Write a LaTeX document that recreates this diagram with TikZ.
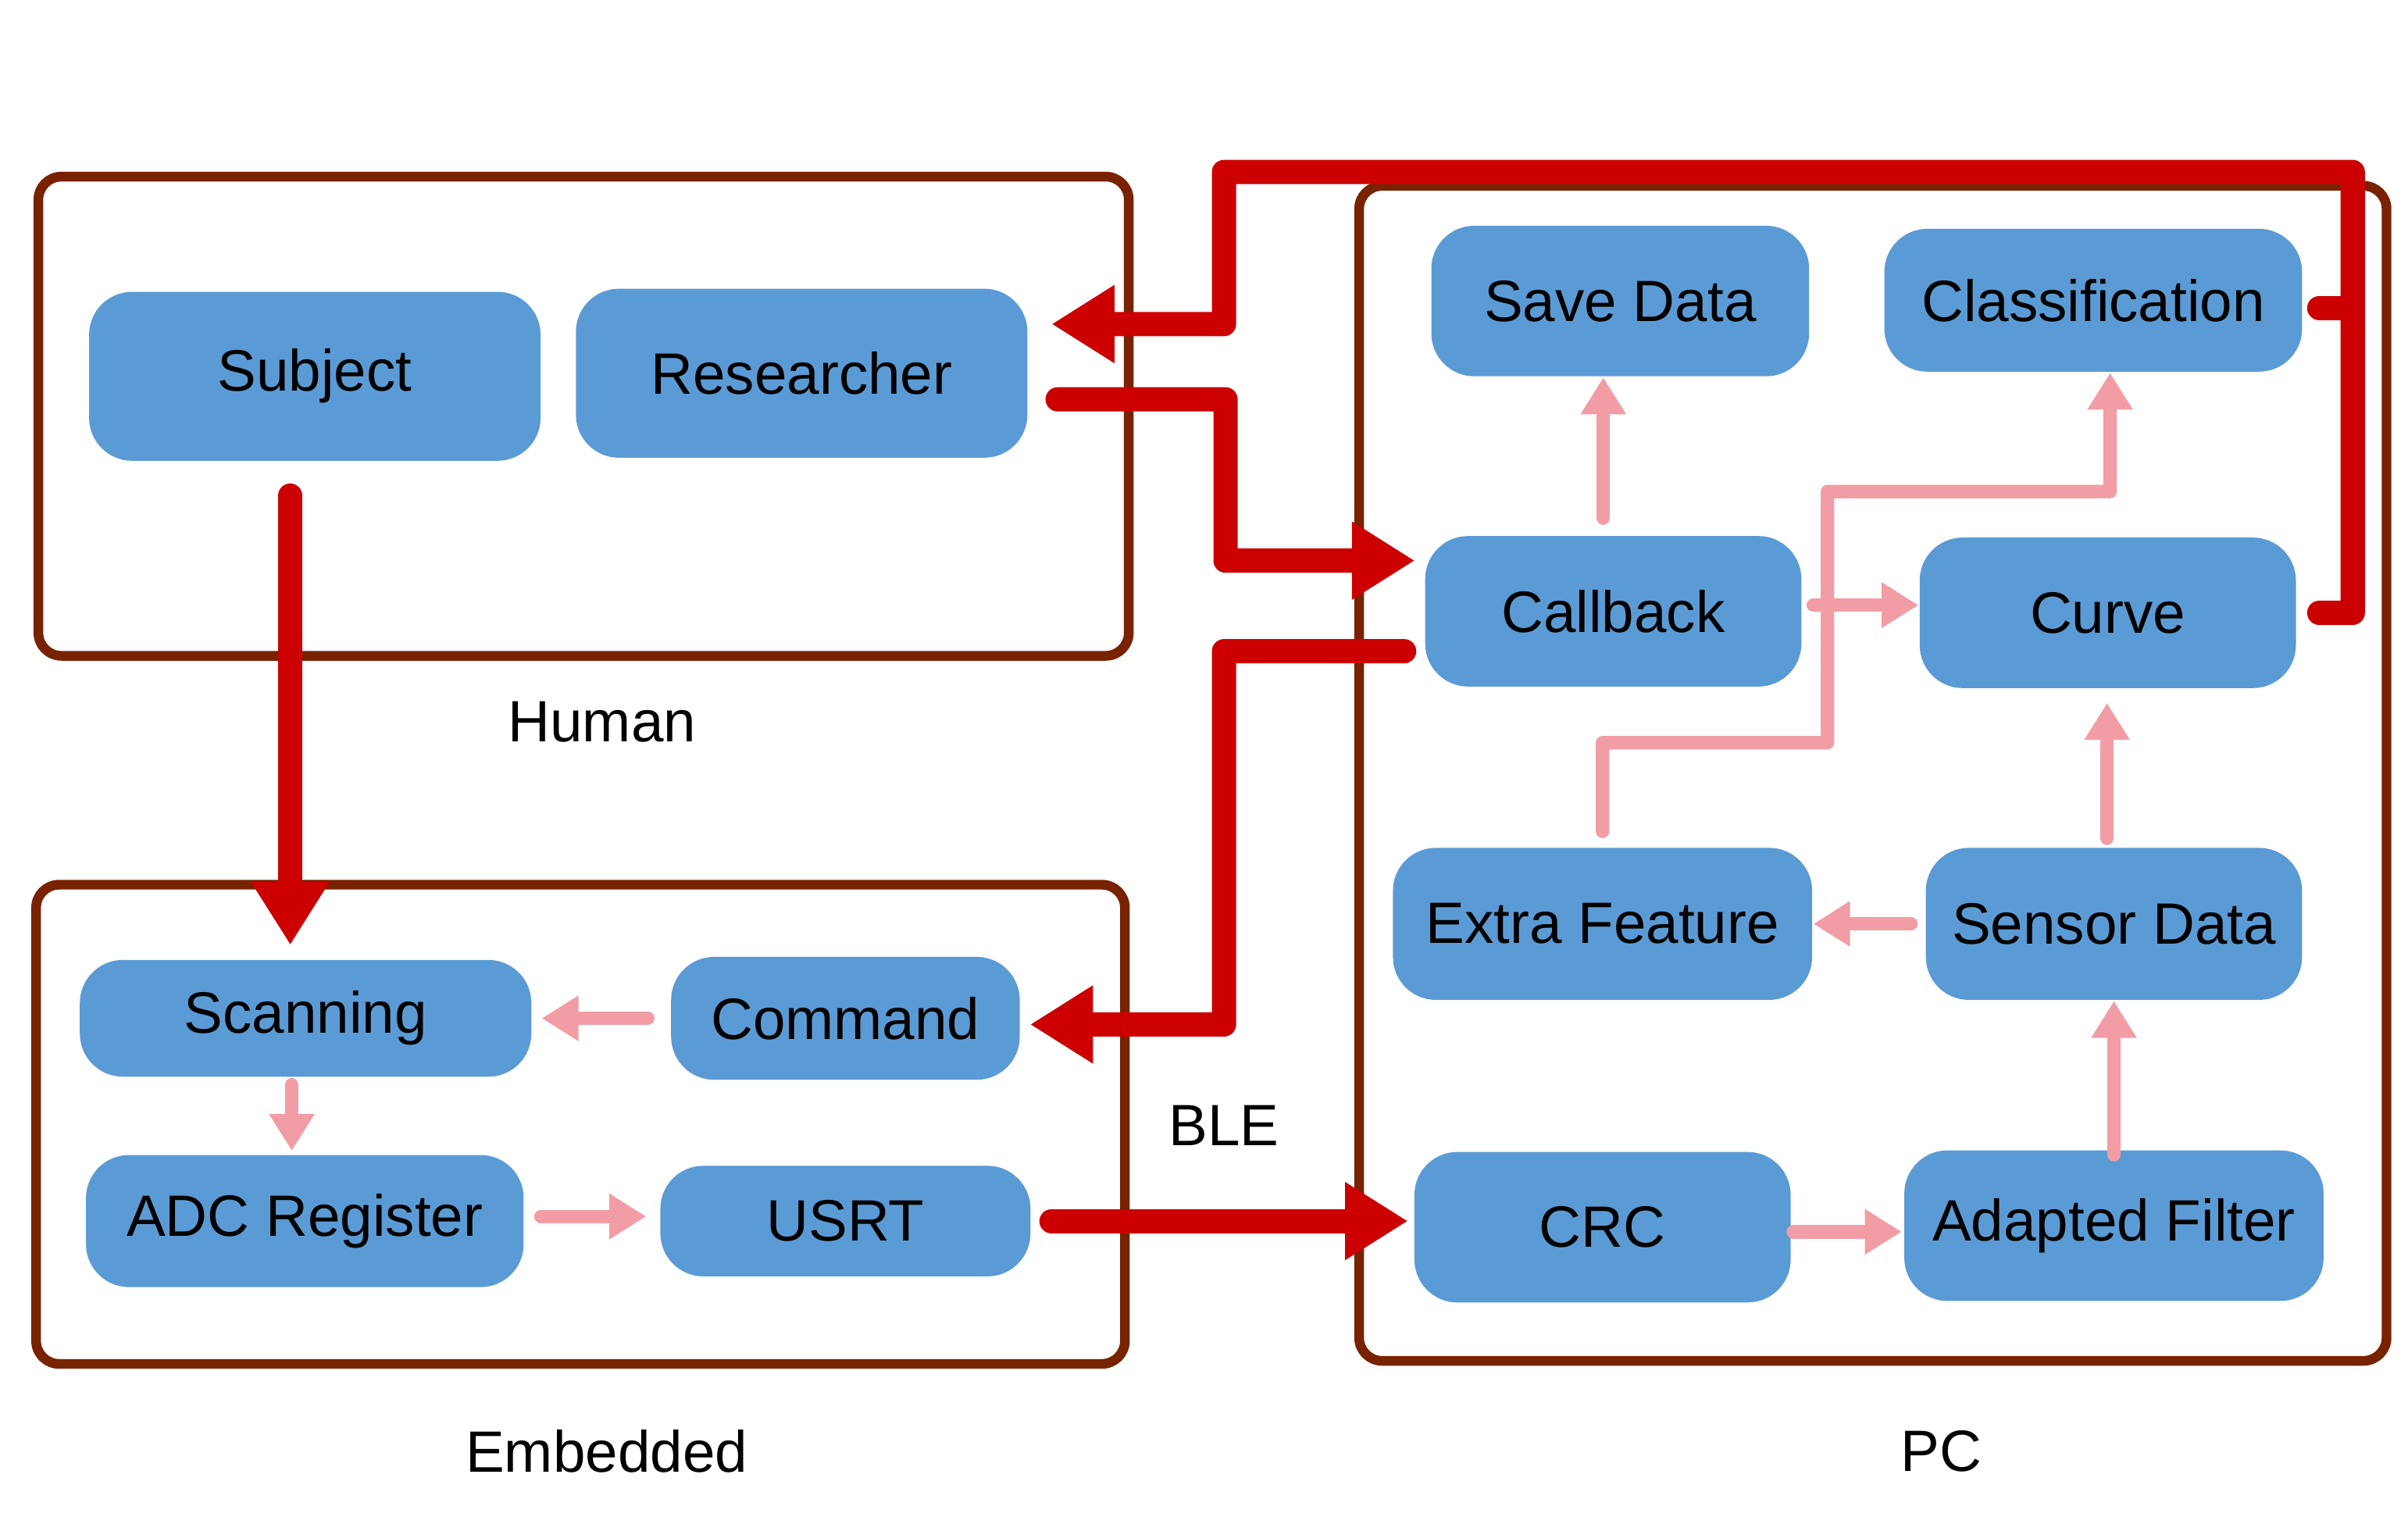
\documentclass[tikz,border=0pt]{standalone}
\usepackage{fontspec}
\setmainfont{Liberation Sans}
\usetikzlibrary{arrows.meta}
\definecolor{boxblue}{RGB}{91,155,213}
\definecolor{flowred}{RGB}{204,0,0}
\definecolor{flowpink}{RGB}{242,157,165}
\definecolor{framebrown}{RGB}{120,34,0}

\begin{document}
\begin{tikzpicture}[
  block/.style={fill=boxblue, rounded corners=0.28cm, align=center, inner sep=0pt,
    font=\fontsize{10.8}{12}\selectfont},
  groupframe/.style={draw=framebrown, line width=1.8pt, rounded corners=0.15cm},
  grouptext/.style={font=\fontsize{10.8}{12}\selectfont},
  redline/.style={draw=flowred, line width=4.5pt, line cap=round, line join=round},
  redarrow/.style={redline, -{Triangle[length=0.41cm,width=0.48cm]}},
  pinkarrow/.style={draw=flowpink, line width=2.5pt, line cap=round, line join=round,
    -{Triangle[length=0.24cm,width=0.28cm]}}
]
          \useasboundingbox (0,0) rectangle (15.68,9.99);

          % group frames
          \draw[groupframe] (0.25,5.72) rectangle (7.35,8.84);
          \draw[groupframe] (0.235,1.11) rectangle (7.325,4.23);
          \draw[groupframe] (8.85,1.13) rectangle (15.54,8.78);

          \node[grouptext] (human) at (3.92,5.29) {Human};
          \node[grouptext] (embedded) at (3.95,0.54) {Embedded};
          \node[grouptext] (pc) at (12.64,0.54) {PC};
          \node[grouptext] (ble) at (7.97,2.66) {BLE};

          % human
          \node[block, minimum width=2.94cm, minimum height=1.10cm] (subj) at (2.05,7.54) {Subject};
          \node[block, minimum width=2.94cm, minimum height=1.10cm] (res) at (5.22,7.56) {Researcher};

          % embedded
          \node[block, minimum width=2.94cm, minimum height=0.76cm] (scan) at (1.99,3.36) {Scanning};
          \node[block, minimum width=2.27cm, minimum height=0.80cm] (cmd) at (5.505,3.36) {Command};
          \node[block, minimum width=2.85cm, minimum height=0.86cm] (adc) at (1.985,2.04) {ADC Register};
          \node[block, minimum width=2.41cm, minimum height=0.72cm] (usrt) at (5.505,2.04) {USRT};

          % pc
          \node[block, minimum width=2.46cm, minimum height=0.98cm] (save) at (10.55,8.03) {Save Data};
          \node[block, minimum width=2.72cm, minimum height=0.93cm] (cls) at (13.63,8.035) {Classification};
          \node[block, minimum width=2.45cm, minimum height=0.98cm] (cb) at (10.505,6.01) {Callback};
          \node[block, minimum width=2.45cm, minimum height=0.98cm] (curve) at (13.725,6.00) {Curve};
          \node[block, minimum width=2.73cm, minimum height=0.99cm] (extra) at (10.435,3.975) {Extra Feature};
          \node[block, minimum width=2.45cm, minimum height=0.99cm] (sensor) at (13.765,3.975) {Sensor Data};
          \node[block, minimum width=2.45cm, minimum height=0.98cm] (crc) at (10.435,2.00) {CRC};
          \node[block, minimum width=2.73cm, minimum height=0.98cm] (filt) at (13.765,2.01) {Adapted Filter};

          % red links
          \draw[redarrow, shorten <=2.2mm, shorten >=0.9mm] ([xshift=-1.6mm]subj.south)
            -- ([xshift=-1.6mm]subj.south |- scan.north);

          \coordinate (loopup) at (15.32,8.87);
          \draw[redarrow, shorten >=1.5mm] ([xshift=1.45mm]curve.east) -| (loopup)
            -| (7.97,7.88) -- ([yshift=3.2mm]res.east);
          \draw[redline] ([xshift=1.05mm,yshift=-0.5mm]cls.east) -- ([yshift=-0.5mm]cls.east -| loopup);

          \draw[redarrow, shorten >=0.6mm] ([xshift=1.9mm,yshift=-1.7mm]res.east) -| (7.98,6.34)
            -- ([yshift=3.3mm]cb.west);
          \draw[redarrow, shorten >=0.6mm] ([xshift=-1.3mm,yshift=-2.6mm]cb.west) -| (7.97,3.32)
            -- ([yshift=-0.4mm]cmd.east);
          \draw[redarrow, shorten >=0.35mm] ([xshift=1.3mm]usrt.east) -- (usrt.east -| crc.west);

          % pink links
          \draw[pinkarrow, shorten <=1.1mm] ([xshift=-0.65mm]cb.north) -- ([xshift=-0.65mm]cb.north |- save.south);
          \draw[pinkarrow] ([xshift=0.7mm,yshift=0.4mm]cb.east) -- ([yshift=0.4mm]cb.east -| curve.west);
          \draw[pinkarrow] ([yshift=1mm]extra.north) |- (11.90,5.155) |- (13.74,6.79)
            -- ([xshift=1.1mm]cls.south);
          \draw[pinkarrow, shorten >=0.9mm] ([xshift=-0.45mm,yshift=0.55mm]sensor.north)
            -- ([xshift=-0.45mm]sensor.north |- curve.south);
          \draw[pinkarrow] ([xshift=-0.9mm]sensor.west) -- (sensor.west -| extra.east);
          \draw[pinkarrow] ([yshift=-0.35mm]filt.north) -- (filt.north |- sensor.south);
          \draw[pinkarrow, shorten >=0.1mm] ([xshift=0.1mm,yshift=-0.3mm]crc.east) -- ([yshift=-0.3mm]crc.east -| filt.west);
          \draw[pinkarrow, shorten >=0.6mm] ([xshift=-1.45mm]cmd.west) -- (cmd.west -| scan.east);
          \draw[pinkarrow, shorten >=0.2mm] ([xshift=-0.9mm,yshift=-0.45mm]scan.south)
            -- ([xshift=-0.9mm]scan.south |- adc.north);
          \draw[pinkarrow, shorten >=0.85mm] ([xshift=1.05mm,yshift=0.3mm]adc.east)
            -- ([yshift=0.3mm]adc.east -| usrt.west);

          \end{tikzpicture}
\end{document}
